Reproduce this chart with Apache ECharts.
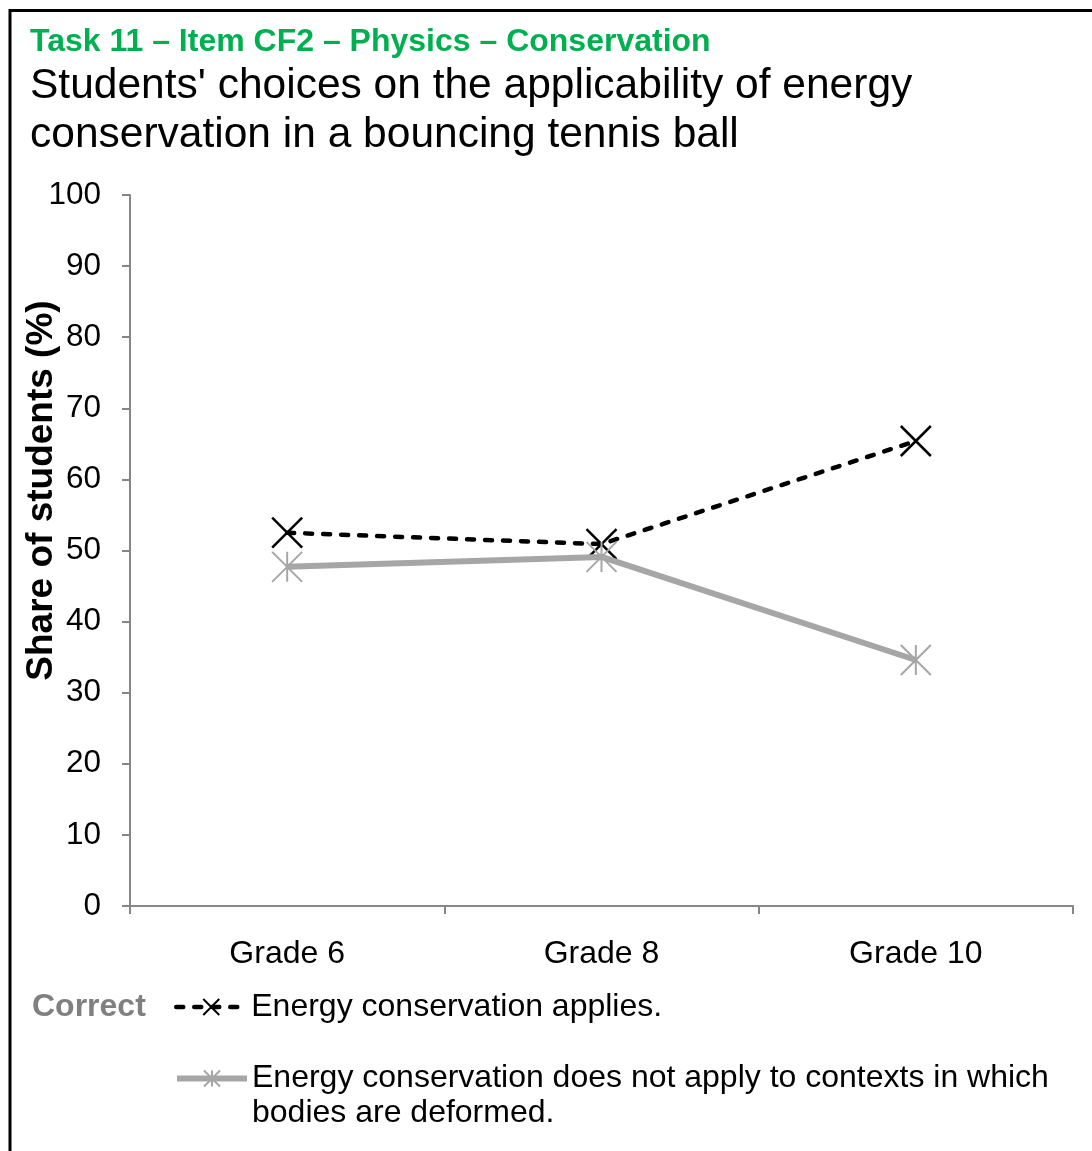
<!DOCTYPE html>
<html>
<head>
<meta charset="utf-8">
<script src="https://cdn.jsdelivr.net/npm/echarts@6/dist/echarts.min.js"></script>
<style>
html,body{margin:0;padding:0;background:#fff;}
#chart{width:1092px;height:1151px;}
</style>
</head>
<body>
<div id="chart"></div>
<script>
const categories = ['Grade 6', 'Grade 8', 'Grade 10'];
const appliesValues = [52.5, 50.9, 65.4];
const notApplyValues = [47.7, 49.1, 34.6];
const seriesNames = ['Energy conservation applies.', 'Energy conservation does not apply to contexts in which\nbodies are deformed.'];
const yTicks = { min: 0, max: 100, interval: 10 };

const FONT = '"Liberation Sans", Arial, sans-serif';
const chart = echarts.init(document.getElementById('chart'), null, { renderer: 'canvas' });

const option = {
  animation: false,
  backgroundColor: '#fff',
  title: {
    left: 30, top: 25, itemGap: 3, padding: 0,
    text: 'Task 11 – Item CF2 – Physics – Conservation',
    textStyle: { fontFamily: FONT, fontSize: 32, fontWeight: 'bold', color: '#00B050', lineHeight: 34 },
    subtext: "Students' choices on the applicability of energy\nconservation in a bouncing tennis ball",
    subtextStyle: { fontFamily: FONT, fontSize: 42.5, color: '#000', lineHeight: 49 }
  },
  graphic: [
    { type: 'rect', shape: { x: 10, y: 10.5, width: 1200, height: 1200 }, style: { fill: 'none', stroke: '#000', lineWidth: 3 }, silent: true },
    { type: 'text', left: 32, top: 991, style: { text: 'Correct', font: 'bold 32px ' + FONT, fill: '#808080' } }
  ],
  grid: { left: 130, right: 19, top: 195, bottom: 245, containLabel: false, outerBoundsMode: 'none' },
  xAxis: {
    type: 'category', data: categories, boundaryGap: true,
    axisLine: { lineStyle: { color: '#868686', width: 2 } },
    axisTick: { show: true, length: 8, alignWithLabel: false, lineStyle: { color: '#868686', width: 2 } },
    axisLabel: { fontFamily: FONT, fontSize: 32, color: '#000', margin: 32 }
  },
  yAxis: {
    type: 'value', min: yTicks.min, max: yTicks.max, interval: yTicks.interval,
    name: 'Share of students (%)', nameLocation: 'middle', nameGap: 70, nameMoveOverlap: false,
    nameTextStyle: { fontFamily: FONT, fontSize: 37, fontWeight: 'bold', color: '#000', padding: [0, 0, 0, 120] },
    axisLine: { show: true, lineStyle: { color: '#868686', width: 2 } },
    axisTick: { show: true, length: 8, lineStyle: { color: '#868686', width: 2 } },
    splitLine: { show: false },
    axisLabel: { fontFamily: FONT, fontSize: 31.5, color: '#000', margin: 29 }
  },
  legend: [
    {
      data: [seriesNames[0]], left: 174, top: 991, padding: 0,
      itemWidth: 70, itemHeight: 20,
      lineStyle: { width: 4.5 },
      textStyle: { fontFamily: FONT, fontSize: 32, color: '#000' }
    },
    {
      data: [seriesNames[1]], left: 174, top: 1026, padding: 0,
      itemWidth: 70, itemHeight: 20,
      lineStyle: { width: 6 },
      formatter: function (name) { return '\n' + name; },
      textStyle: { fontFamily: FONT, fontSize: 32, color: '#000', lineHeight: 35 }
    }
  ],
  series: [
    {
      name: seriesNames[0], type: 'line', data: appliesValues,
      symbol: 'path://M0,0L10,10M10,0L0,10', symbolSize: 30, symbolKeepAspect: true,
      lineStyle: { color: '#000', width: 4.5, type: [7, 11], cap: 'round' },
      itemStyle: { color: '#000', borderColor: '#000', borderWidth: 2.5 },
      emphasis: { disabled: true }, z: 2
    },
    {
      name: seriesNames[1], type: 'line', data: notApplyValues,
      symbol: 'path://M0,0L10,10M10,0L0,10M5,0L5,10', symbolSize: 30, symbolKeepAspect: true,
      lineStyle: { color: '#A6A6A6', width: 6 },
      itemStyle: { color: '#A6A6A6', borderColor: '#A6A6A6', borderWidth: 2 },
      emphasis: { disabled: true }, z: 3
    }
  ]
};
chart.setOption(option);
</script>
</body>
</html>
